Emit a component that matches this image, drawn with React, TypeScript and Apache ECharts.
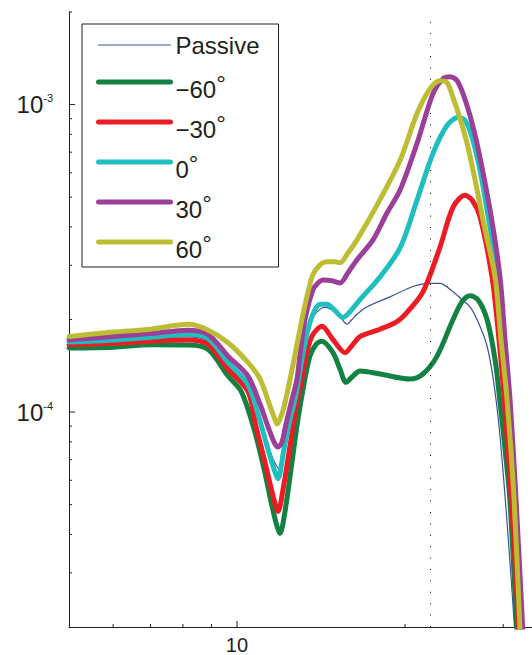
import React, { useEffect, useRef } from 'react';
import * as echarts from 'echarts';

// ---------- data (frequency, amplitude) ----------
const SERIES_NAMES = ['Passive', '−60°', '−30°', '0°', '30°', '60°'];
const SERIES_COLORS = ['#3b4fa0', '#128141', '#ed1c24', '#1fbfbf', '#9c3f98', '#bcbd32'];
const SERIES_WIDTHS = [1.2, 5, 5, 5, 5, 5];

const passive: number[][] = [
  [5.0, 1.673e-4], [6.0, 1.70e-4], [7.0, 1.735e-4], [8.17, 1.755e-4], [8.87, 1.70e-4], [9.64, 1.42e-4],
  [10.46, 1.20e-4], [10.905, 1.007e-4], [11.32, 8.05e-5], [11.60, 7.04e-5], [11.89, 6.54e-5], [12.19, 8.18e-5],
  [12.55, 1.061e-4], [12.97, 1.43e-4], [13.35, 1.788e-4], [13.68, 2.03e-4], [14.03, 2.15e-4], [14.38, 2.19e-4],
  [14.86, 2.14e-4], [15.30, 2.04e-4], [15.75, 1.93e-4], [16.07, 2.0e-4], [16.41, 2.08e-4], [17.10, 2.20e-4],
  [18.80, 2.37e-4], [20.68, 2.56e-4], [22.18, 2.62e-4], [23.11, 2.62e-4], [24.39, 2.46e-4], [25.31, 2.32e-4],
  [26.16, 2.20e-4], [27.03, 1.97e-4], [28.06, 1.64e-4], [28.88, 1.23e-4], [29.60, 8.36e-5], [30.60, 3.97e-5],
  [31.62, 1.7e-5],
];
const minus60: number[][] = [
  [5.0, 1.615e-4], [6.0, 1.626e-4], [7.0, 1.654e-4], [8.17, 1.651e-4], [8.87, 1.60e-4], [9.64, 1.31e-4],
  [10.17, 1.169e-4], [10.73, 8.81e-5], [11.18, 6.54e-5], [11.55, 4.96e-5], [11.80, 4.24e-5], [11.94, 4.03e-5],
  [12.19, 4.75e-5], [12.55, 6.89e-5], [12.86, 9.49e-5], [13.18, 1.23e-4], [13.51, 1.52e-4], [13.86, 1.66e-4],
  [14.20, 1.70e-4], [14.86, 1.56e-4], [15.30, 1.377e-4], [15.68, 1.25e-4], [16.14, 1.31e-4], [16.61, 1.36e-4],
  [18.04, 1.33e-4], [20.42, 1.28e-4], [21.54, 1.33e-4], [22.83, 1.52e-4], [24.39, 2.00e-4], [25.31, 2.286e-4],
  [26.16, 2.39e-4], [27.03, 2.32e-4], [28.06, 2.00e-4], [29.00, 1.485e-4], [29.60, 1.08e-4], [30.22, 7.59e-5],
  [30.85, 5.11e-5], [31.85, 1.7e-5],
];
const minus30: number[][] = [
  [5.0, 1.656e-4], [6.0, 1.673e-4], [7.0, 1.70e-4], [8.17, 1.714e-4], [8.87, 1.66e-4], [9.64, 1.377e-4],
  [10.46, 1.169e-4], [10.81, 9.01e-5], [11.22, 6.89e-5], [11.60, 5.35e-5], [11.84, 4.75e-5], [12.14, 5.85e-5],
  [12.50, 8.18e-5], [12.81, 1.08e-4], [13.07, 1.28e-4], [13.35, 1.576e-4], [13.68, 1.788e-4], [14.20, 1.90e-4],
  [14.86, 1.72e-4], [15.62, 1.56e-4], [16.14, 1.66e-4], [16.61, 1.76e-4], [18.04, 1.86e-4], [19.35, 1.97e-4],
  [20.17, 2.11e-4], [21.54, 2.46e-4], [23.11, 3.44e-4], [24.39, 4.64e-4], [25.63, 5.07e-4], [26.38, 4.89e-4],
  [27.26, 4.31e-4], [28.64, 2.75e-4], [29.48, 1.72e-4], [30.22, 1.023e-4], [31.11, 4.85e-5], [32.12, 1.7e-5],
];
const zero: number[][] = [
  [5.0, 1.69e-4], [6.0, 1.716e-4], [7.0, 1.75e-4], [8.17, 1.79e-4], [8.87, 1.735e-4], [9.64, 1.45e-4],
  [10.46, 1.23e-4], [10.905, 9.85e-5], [11.32, 7.76e-5], [11.60, 6.69e-5], [11.84, 6.07e-5], [12.14, 7.59e-5],
  [12.45, 9.49e-5], [12.76, 1.144e-4], [13.07, 1.485e-4], [13.41, 1.86e-4], [13.74, 2.12e-4], [14.09, 2.24e-4],
  [14.50, 2.24e-4], [14.98, 2.14e-4], [15.49, 2.03e-4], [15.94, 2.12e-4], [16.61, 2.32e-4], [18.04, 2.75e-4],
  [19.60, 3.42e-4], [21.02, 4.89e-4], [22.45, 6.94e-4], [23.79, 8.55e-4], [24.90, 9.08e-4], [25.63, 8.88e-4],
  [26.38, 7.82e-4], [27.26, 6.11e-4], [28.06, 4.54e-4], [29.36, 2.75e-4], [30.10, 1.72e-4], [30.72, 1.023e-4],
  [31.50, 4.85e-5], [32.38, 1.7e-5],
];
const plus30: number[][] = [
  [5.0, 1.72e-4], [6.0, 1.76e-4], [7.0, 1.80e-4], [8.17, 1.846e-4], [8.87, 1.79e-4], [9.64, 1.52e-4],
  [10.46, 1.31e-4], [11.0, 1.06e-4], [11.37, 8.94e-5], [11.65, 7.99e-5], [11.84, 7.70e-5], [12.04, 7.99e-5],
  [12.24, 9.14e-5], [12.55, 1.10e-4], [12.81, 1.28e-4], [12.97, 1.54e-4], [13.24, 2.00e-4], [13.68, 2.50e-4],
  [13.97, 2.63e-4], [14.26, 2.69e-4], [14.80, 2.675e-4], [15.30, 2.63e-4], [15.81, 2.84e-4], [16.41, 3.13e-4],
  [17.53, 3.63e-4], [18.57, 4.44e-4], [19.60, 5.27e-4], [21.02, 7.48e-4], [22.45, 1.085e-3], [23.40, 1.214e-3],
  [24.09, 1.232e-3], [24.80, 1.196e-3], [25.41, 1.085e-3], [26.16, 9.21e-4], [26.92, 7.48e-4], [28.41, 4.54e-4],
  [29.60, 2.75e-4], [30.22, 1.72e-4], [30.85, 1.10e-4], [31.62, 5.23e-5], [32.65, 1.7e-5],
];
const plus60: number[][] = [
  [5.0, 1.76e-4], [6.0, 1.82e-4], [7.0, 1.86e-4], [8.17, 1.93e-4], [8.87, 1.85e-4], [9.64, 1.68e-4],
  [10.46, 1.45e-4], [11.0, 1.28e-4], [11.46, 1.045e-4], [11.65, 9.63e-5], [11.80, 9.14e-5], [11.94, 9.49e-5],
  [12.14, 1.038e-4], [12.45, 1.28e-4], [12.76, 1.60e-4], [13.07, 2.00e-4], [13.41, 2.46e-4], [13.68, 2.80e-4],
  [14.09, 3.01e-4], [14.50, 3.08e-4], [14.98, 3.08e-4], [15.30, 3.06e-4], [15.81, 3.29e-4], [16.41, 3.63e-4],
  [17.82, 4.71e-4], [19.60, 6.59e-4], [21.02, 9.35e-4], [22.18, 1.127e-3], [23.11, 1.196e-3], [23.79, 1.178e-3],
  [24.39, 1.054e-3], [25.10, 9.01e-4], [25.84, 7.48e-4], [26.71, 5.68e-4], [27.60, 4.21e-4], [29.00, 2.75e-4],
  [29.72, 1.72e-4], [30.47, 1.10e-4], [31.37, 5.23e-5], [32.25, 1.7e-5],
];
const SERIES_DATA = [passive, minus60, minus30, zero, plus30, plus60];

const X_MIN = 5;
const X_MAX = 33.78;
const Y_MIN = 2e-5;
const Y_MAX = 2e-3;
const X_MAJOR_TICKS = [10];
const X_MINOR_TICKS = [6, 7, 8, 9, 20, 30];
const Y_MAJOR_TICKS = [1e-4, 1e-3];
const Y_MINOR_TICKS = [3e-5, 4e-5, 5e-5, 6e-5, 7e-5, 8e-5, 9e-5, 2e-4, 3e-4, 4e-4, 5e-4, 6e-4, 7e-4, 8e-4, 9e-4, 2e-3];
const X_MARKER = 22.2;

const FONT = '"Liberation Sans", Arial, Helvetica, sans-serif';
const INK = '#231f20';

function tickSeries(name: string, values: number[], axis: 'x' | 'y', len: number) {
  return {
    type: 'custom',
    name,
    silent: true,
    clip: false,
    z: 10,
    data: values.map((v) => (axis === 'x' ? [v, Y_MIN] : [X_MIN, v])),
    renderItem: (_params: any, api: any) => {
      const p = api.coord([api.value(0), api.value(1)]);
      const shape =
        axis === 'x'
          ? { x1: p[0], y1: p[1], x2: p[0], y2: p[1] - len }
          : { x1: p[0], y1: p[1], x2: p[0] + len, y2: p[1] };
      return { type: 'line', shape, style: { stroke: INK, lineWidth: 1 } };
    },
  };
}

const legendText = { fontSize: 24, lineHeight: 24, fontFamily: FONT, color: INK, verticalAlign: 'top' };

export default function App() {
  const ref = useRef<HTMLDivElement>(null);
  useEffect(() => {
    if (!ref.current) return;
    const chart = echarts.init(ref.current, undefined, { renderer: 'svg' });
    const lineSeries = SERIES_NAMES.map((name, i) => ({
      type: 'line',
      name,
      data: SERIES_DATA[i],
      symbol: 'none',
      smooth: 0.3,
      color: SERIES_COLORS[i],
      lineStyle: { width: SERIES_WIDTHS[i], color: SERIES_COLORS[i], join: 'round', cap: 'round' },
      z: 2 + i,
      ...(i === 0
        ? {
            markLine: {
              silent: true,
              symbol: 'none',
              label: { show: false },
              lineStyle: { type: [1, 10.4], color: '#000', width: 1 },
              data: [{ xAxis: X_MARKER }],
            },
          }
        : {}),
    }));
    chart.setOption({
      animation: false,
      grid: { left: 69, top: 12, right: 0, bottom: 27, containLabel: false },
      xAxis: {
        type: 'log',
        logBase: 10,
        min: X_MIN,
        max: X_MAX,
        axisLine: { show: true, onZero: false, lineStyle: { color: INK, width: 1 } },
        axisTick: { show: false },
        splitLine: { show: false },
        minorTick: { show: false },
        axisLabel: {
          show: true,
          showMinLabel: false,
          showMaxLabel: false,
          margin: 8,
          fontSize: 20,
          fontFamily: FONT,
          color: INK,
          formatter: (v: number) => String(Math.round(v)),
        },
      },
      yAxis: {
        type: 'log',
        logBase: 10,
        min: Y_MIN,
        max: Y_MAX,
        axisLine: { show: true, onZero: false, lineStyle: { color: INK, width: 1 } },
        axisTick: { show: false },
        splitLine: { show: false },
        axisLabel: {
          show: true,
          showMinLabel: false,
          showMaxLabel: false,
          margin: 16,
          formatter: (v: number) => `{b|10}{s|${Math.round(Math.log10(v))}}`,
          rich: {
            b: { fontSize: 24, lineHeight: 24, fontFamily: FONT, color: INK },
            s: { fontSize: 11, lineHeight: 18, verticalAlign: 'top', fontFamily: FONT, color: INK },
          },
        },
      },
      legend: {
        data: SERIES_NAMES,
        orient: 'vertical',
        left: 82,
        top: 24,
        padding: [9, 19, 5.5, 14],
        itemWidth: 72,
        itemHeight: 24,
        itemGap: 8.5,
        borderColor: INK,
        borderWidth: 1,
        backgroundColor: '#fff',
        selectedMode: false,
        itemStyle: { opacity: 0, color: 'rgba(0,0,0,0)', borderWidth: 0 },
        lineStyle: { width: 'inherit' },
        formatter: (name: string) =>
          name === 'Passive' ? `{p|${name}}` : `{t|${name.slice(0, -1)}}{d|°}`,
        textStyle: {
          fontFamily: FONT,
          fontSize: 24,
          color: INK,
          rich: {
            p: { ...legendText, padding: [0, 0, 4.5, 0] },
            t: { ...legendText, padding: [7.5, 0, 0, 0] },
            d: { ...legendText, padding: [1.5, 0, 0, 0] },
          },
        },
      },
      series: [
        ...lineSeries,
        tickSeries('xMajorTicks', X_MAJOR_TICKS, 'x', 6),
        tickSeries('xMinorTicks', X_MINOR_TICKS, 'x', 3),
        tickSeries('yMajorTicks', Y_MAJOR_TICKS, 'y', 6),
        tickSeries('yMinorTicks', Y_MINOR_TICKS, 'y', 3),
      ],
    });
    return () => chart.dispose();
  }, []);
  return (
    <div
      ref={ref}
      style={{ position: 'absolute', left: 0, top: 0, width: 532, height: 655, background: '#fff' }}
    />
  );
}
